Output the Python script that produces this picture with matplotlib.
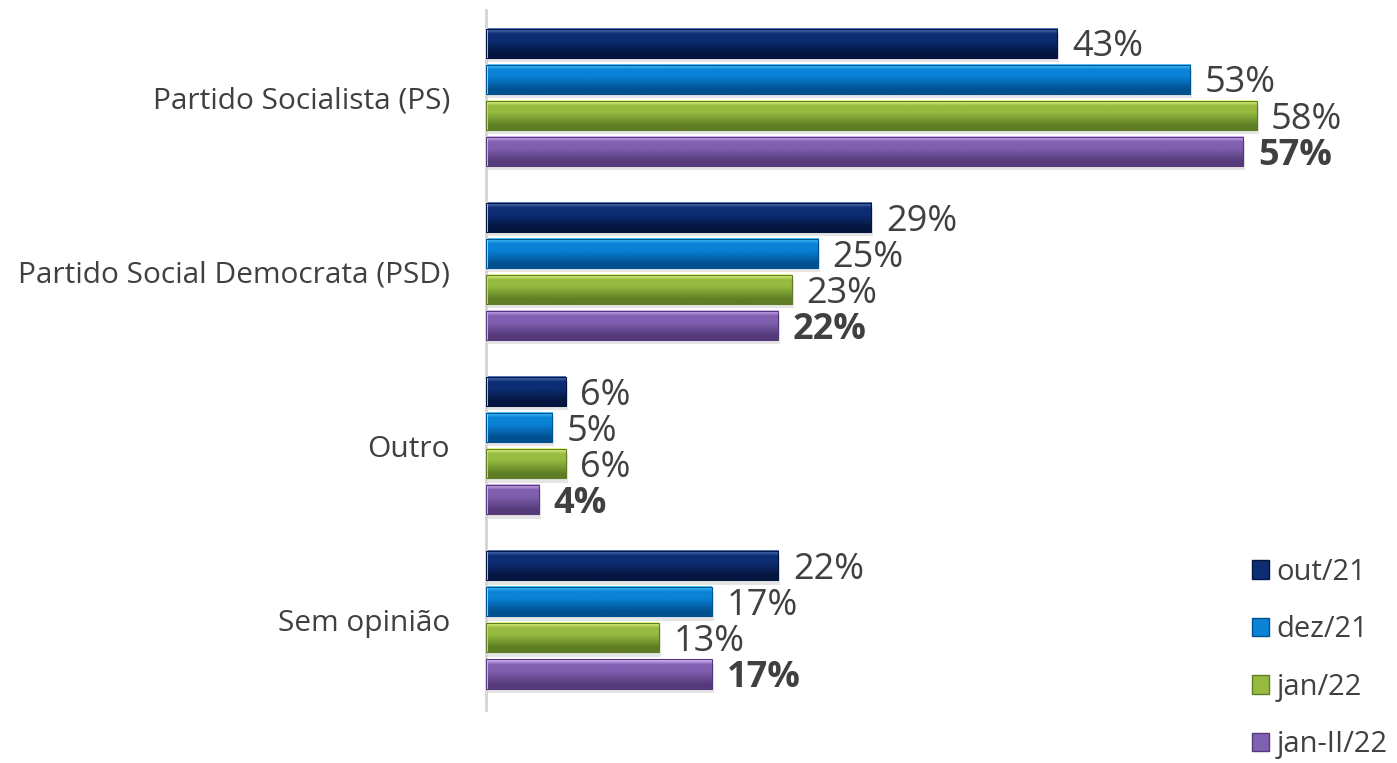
import numpy as np
import matplotlib.pyplot as plt
from matplotlib.colors import to_rgb
from matplotlib.patches import Patch, Rectangle

plt.rcParams['font.family'] = ['Open Sans', 'DejaVu Sans']

categories = ['Partido Socialista (PS)', 'Partido Social Democrata (PSD)', 'Outro', 'Sem opinião']
series = ['out/21', 'dez/21', 'jan/22', 'jan-II/22']
out21 = [43, 29, 6, 22]
dez21 = [53, 25, 5, 17]
jan22 = [58, 23, 6, 13]
janII22 = [57, 22, 4, 17]
values = [out21, dez21, jan22, janII22]

# glossy look: light top, base middle, dark bottom
light = ['#5a7fc4', '#4fcaff', '#efff90', '#e0bcff']
base = ['#0d2d74', '#0a82d6', '#97bb40', '#8060b0']
dark = ['#04163f', '#005190', '#5f7d24', '#553a7a']
txt = '#404040'

fig = plt.figure(figsize=(13.97, 7.63), dpi=100)
ax = fig.add_axes([486 / 1397, 53 / 763, 910 / 1397, 700 / 763])

pitch = 36 / 174
h = 29 / 174
stops = [0.0, 0.18, 0.4, 0.85, 1.0]


def grad(j):
    c0, c1, c2 = to_rgb(light[j]), to_rgb(base[j]), to_rgb(dark[j])
    cols = [c0, c1, c1, c2, c2]
    t = np.linspace(0, 1, 40)
    arr = np.zeros((40, 1, 3))
    for k in range(3):
        arr[:, 0, k] = np.interp(t, stops, [c[k] for c in cols])
    return arr


for j, vals in enumerate(values):
    g = grad(j)
    for i, v in enumerate(vals):
        y = i + (j - 1.5) * pitch
        # shadow
        ax.add_patch(Rectangle((0.15, y - h / 2 + 0.025), v, h, color='#000000',
                               alpha=0.10, lw=0, zorder=1))
        ax.imshow(g, extent=(0, v, y + h / 2, y - h / 2), origin='upper',
                  aspect='auto', interpolation='bilinear', zorder=2)
        ax.add_patch(Rectangle((0, y - h / 2), v, h, fill=False,
                               edgecolor=dark[j], lw=0.8, zorder=3))
        ax.text(v + 1.1, y + 0.025, f'{v}%', va='center', ha='left',
                fontsize=26, color=txt,
                fontweight='bold' if j == 3 else 'normal', zorder=4)

ax.set_xlim(0, 68.5)
ax.set_ylim(3.517, -0.5)
ax.set_yticks(range(len(categories)))
ax.set_yticklabels(categories, fontsize=21.5, color=txt)
ax.tick_params(axis='y', length=0, pad=26)
ax.set_xticks([])
for s in ['top', 'right', 'bottom']:
    ax.spines[s].set_visible(False)
ax.spines['left'].set_color('#d4d4d4')
ax.spines['left'].set_linewidth(2)
ax.patch.set_alpha(0)

handles = [Patch(facecolor=base[j], edgecolor=dark[j], label=series[j]) for j in range(4)]
fig.legend(handles=handles, loc='upper left', bbox_to_anchor=(1240 / 1397, 1 - 546 / 763),
           frameon=False, fontsize=21, labelcolor=txt, handlelength=0.6, handleheight=0.6,
           handletextpad=0.25, labelspacing=0.98, borderaxespad=0)

fig.savefig('out.png', dpi=100)
